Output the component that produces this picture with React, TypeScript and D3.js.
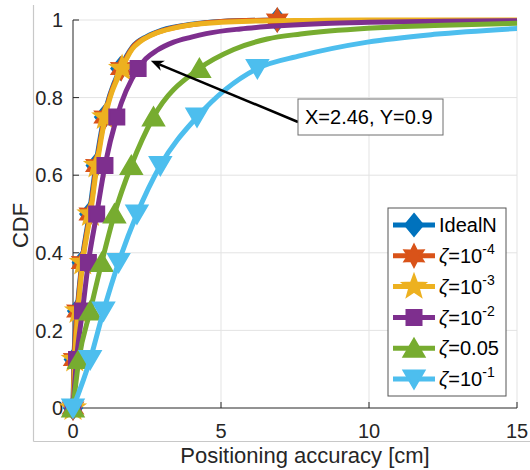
import React from "react";
import * as d3 from "d3";

// ---- data ----
const levels = [0, 0.125, 0.25, 0.375, 0.5, 0.625, 0.75, 0.875];

const idealMarkX = [0, 0.03, 0.14, 0.3, 0.55, 0.77, 1.05, 1.6];
const idealTailX = [2.0, 2.5, 3.0, 4.0, 5.0, 6.9];
const idealTailY = [0.93, 0.958, 0.974, 0.989, 0.996, 1.0];

const z4MarkX = [0, 0.04, 0.15, 0.31, 0.57, 0.79, 1.07, 1.63];
const z4TailX = [2.0, 2.5, 3.0, 4.0, 5.0, 6.9];
const z4TailY = [0.928, 0.956, 0.972, 0.988, 0.996, 1.0];

const z3MarkX = [0, 0.06, 0.17, 0.33, 0.59, 0.81, 1.09, 1.66];
const z3TailX = [2.0, 2.3, 2.8, 3.4, 4.0, 5.0, 6.0, 8.0, 10.0, 15.2];
const z3TailY = [0.925, 0.946, 0.966, 0.979, 0.988, 0.994, 0.997, 0.999, 1.0, 1.0];

const z2MarkX = [0, 0.12, 0.32, 0.52, 0.8, 1.08, 1.48, 2.2];
const z2TailX = [2.46, 2.84, 3.4, 4.0, 4.5, 5.66, 6.56, 8.5, 10.0, 12.5, 15.2];
const z2TailY = [0.9, 0.922, 0.943, 0.956, 0.965, 0.977, 0.983, 0.991, 0.994, 0.997, 0.998];

const z05MarkX = [0, 0.2, 0.58, 0.97, 1.4, 1.97, 2.72, 4.27];
const z05TailX = [5.43, 6.56, 7.69, 9.95, 12.2, 15.2];
const z05TailY = [0.924, 0.951, 0.964, 0.979, 0.986, 0.992];

const z1MarkX = [0, 0.58, 1.03, 1.54, 2.16, 2.95, 4.19, 6.23];
const z1TailX = [7.69, 9.95, 12.2, 15.2];
const z1TailY = [0.908, 0.943, 0.963, 0.979];

const seriesSymbol = ["", "ζ", "ζ", "ζ", "ζ", "ζ"];
const seriesNames = ["IdealN", "=10", "=10", "=10", "=0.05", "=10"];
const seriesSup = ["", "-4", "-3", "-2", "", "-1"];
const seriesColors = ["#0072BD", "#D95319", "#EDB120", "#7E2F8E", "#77AC30", "#4DBEEE"];
const seriesMarkers = ["diamond", "hexagram", "pentagram", "square", "triangleUp", "triangleDown"];
// whether the last tail point carries a marker (max sample at CDF = 1)
const seriesEndMarker = [true, true, false, false, false, false];

const xTicks = [0, 5, 10, 15];
const yTicks = [0, 0.2, 0.4, 0.6, 0.8, 1];
const yTickLabels = ["0", "0.2", "0.4", "0.6", "0.8", "1"];

const annotX = 2.46;
const annotY = 0.9;
const annotText = "X=2.46, Y=0.9";

// ---- build series ----
const markXs = [idealMarkX, z4MarkX, z3MarkX, z2MarkX, z05MarkX, z1MarkX];
const tailXs = [idealTailX, z4TailX, z3TailX, z2TailX, z05TailX, z1TailX];
const tailYs = [idealTailY, z4TailY, z3TailY, z2TailY, z05TailY, z1TailY];

const series = seriesNames.map((name, i) => {
  const marks = markXs[i].map((x, k) => [x, levels[k]] as [number, number]);
  const tail = tailXs[i].map((x, k) => [x, tailYs[i][k]] as [number, number]);
  const markerPts = seriesEndMarker[i] ? [...marks, tail[tail.length - 1]] : marks;
  return {
    symbol: seriesSymbol[i],
    name,
    sup: seriesSup[i],
    color: seriesColors[i],
    marker: seriesMarkers[i],
    pts: [...marks, ...tail],
    markerPts,
  };
});

function starPath(n: number, ro: number, ri: number) {
  const p: string[] = [];
  for (let k = 0; k < 2 * n; k++) {
    const r = k % 2 === 0 ? ro : ri;
    const a = -Math.PI / 2 + (k * Math.PI) / n;
    p.push(`${(r * Math.cos(a)).toFixed(2)},${(r * Math.sin(a)).toFixed(2)}`);
  }
  return "M" + p.join("L") + "Z";
}

function markerPath(type: string) {
  switch (type) {
    case "diamond":
      return "M0,-11L9,0L0,11L-9,0Z";
    case "hexagram":
      return starPath(6, 11, 6);
    case "pentagram":
      return starPath(5, 12, 5);
    case "square":
      return "M-7.5,-7.5L7.5,-7.5L7.5,7.5L-7.5,7.5Z";
    case "triangleUp":
      return "M0,-9.5L10.5,8.5L-10.5,8.5Z";
    case "triangleDown":
      return "M0,9.5L10.5,-8.5L-10.5,-8.5Z";
  }
  return "";
}

const FONT = "'Liberation Sans', Arial, Helvetica, sans-serif";

export default function App() {
  const W = 530;
  const H = 470;
  const left = 73;
  const right = 517;
  const top = 20;
  const bottom = 408;

  const x = d3.scaleLinear().domain([0, 15]).range([left, right]);
  const y = d3.scaleLinear().domain([0, 1]).range([bottom, top]);
  const line = d3
    .line<[number, number]>()
    .x((d) => x(d[0]))
    .y((d) => y(d[1]))
    .curve(d3.curveMonotoneX);

  const axisColor = "#262626";
  const gridColor = "#e3e3e3";

  // legend
  const lgX = 388;
  const lgY = 208;
  const lgW = 118;
  const lgH = 188;
  const rowY0 = 225;
  const rowDy = 30.8;

  // annotation
  const tipX = x(annotX) + 5;
  const tipY = y(annotY) + 2;
  const boxX = 298;
  const boxY = 99;
  const boxW = 145;
  const boxH = 36;
  const startX = boxX;
  const startY = 122;
  const ang = Math.atan2(startY - tipY, startX - tipX);
  const ah = 13;
  const aw = 5.5;
  const ux = Math.cos(ang);
  const uy = Math.sin(ang);
  const baseX = tipX + ux * ah;
  const baseY = tipY + uy * ah;
  const notchX = tipX + ux * ah * 0.7;
  const notchY = tipY + uy * ah * 0.7;
  const arrowHead = `M${tipX},${tipY}L${baseX - uy * aw},${baseY + ux * aw}L${notchX},${notchY}L${baseX + uy * aw},${baseY - ux * aw}Z`;

  return (
    <svg
      width={W}
      height={H}
      style={{ position: "absolute", left: 0, top: 0, background: "#fff" }}
      fontFamily={FONT}
    >
      <defs>
        <clipPath id="plotClip">
          <rect x={0} y={0} width={right} height={H} />
        </clipPath>
      </defs>
      <rect x={0} y={0} width={W} height={H} fill="#fff" />

      {/* outer gray frame */}
      <line x1={33.5} y1={5} x2={33.5} y2={441.5} stroke="#c8c8c8" strokeWidth={1.2} />
      <line x1={33.5} y1={441.5} x2={W} y2={441.5} stroke="#c8c8c8" strokeWidth={1.2} />

      {/* grid */}
      {yTicks.filter((t) => t > 0).map((t) => (
        <line key={"gy" + t} x1={left} x2={right} y1={y(t)} y2={y(t)} stroke={gridColor} strokeWidth={1} />
      ))}
      {xTicks.filter((t) => t > 0).map((t) => (
        <line key={"gx" + t} x1={x(t)} x2={x(t)} y1={top} y2={bottom} stroke={gridColor} strokeWidth={1} />
      ))}

      {/* axes */}
      <line x1={left} x2={left} y1={top} y2={bottom} stroke={axisColor} strokeWidth={1} />
      <line x1={left} x2={right} y1={bottom} y2={bottom} stroke={axisColor} strokeWidth={1} />
      {yTicks.map((t) => (
        <line key={"ty" + t} x1={left} x2={left + 6} y1={y(t)} y2={y(t)} stroke={axisColor} />
      ))}
      {xTicks.map((t) => (
        <line key={"tx" + t} x1={x(t)} x2={x(t)} y1={bottom} y2={bottom - 6} stroke={axisColor} />
      ))}

      {/* tick labels */}
      {yTicks.map((t, i) => (
        <text key={"ly" + t} x={63} y={y(t)} dy="0.36em" textAnchor="end" fontSize={20} fill={axisColor}>
          {yTickLabels[i]}
        </text>
      ))}
      {xTicks.map((t) => (
        <text key={"lx" + t} x={x(t)} y={438} textAnchor="middle" fontSize={20} fill={axisColor}>
          {t}
        </text>
      ))}

      {/* series */}
      {series.map((s, i) => (
        <g key={"s" + i}>
          <path
            d={line(s.pts) || ""}
            fill="none"
            stroke={s.color}
            strokeWidth={5}
            strokeLinejoin="round"
            clipPath="url(#plotClip)"
          />
          {s.markerPts.map((p, k) => (
            <path
              key={k}
              d={markerPath(s.marker)}
              transform={`translate(${x(p[0])},${y(p[1])})`}
              fill={s.color}
              stroke={s.color}
              strokeWidth={2}
              strokeLinejoin="miter"
            />
          ))}
        </g>
      ))}

      {/* axis labels */}
      <text x={305} y={463} textAnchor="middle" fontSize={22} fill={axisColor}>
        Positioning accuracy [cm]
      </text>
      <text
        transform="translate(27.5,225.5) rotate(-90)"
        textAnchor="middle"
        fontSize={22}
        fill={axisColor}
      >
        CDF
      </text>

      {/* annotation */}
      <line x1={startX} y1={startY} x2={notchX} y2={notchY} stroke="#000" strokeWidth={2.5} />
      <path d={arrowHead} fill="#000" />
      <rect x={boxX} y={boxY} width={boxW} height={boxH} fill="#fff" stroke="#6e6e6e" strokeWidth={1} />
      <text x={305} y={124} fontSize={20} fill="#000">
        {annotText}
      </text>

      {/* legend */}
      <rect x={lgX} y={lgY} width={lgW} height={lgH} fill="#fff" stroke="#555" strokeWidth={1} />
      {series.map((s, i) => {
        const cy = rowY0 + i * rowDy;
        return (
          <g key={"lg" + i}>
            <line x1={393} x2={435} y1={cy} y2={cy} stroke={s.color} strokeWidth={5} />
            <path
              d={markerPath(s.marker)}
              transform={`translate(414,${cy})`}
              fill={s.color}
              stroke={s.color}
              strokeWidth={2}
            />
            <text x={439} y={cy} dy="0.36em" fontSize={20} fill="#000">
              {s.symbol ? <tspan fontStyle="italic">{s.symbol}</tspan> : null}
              <tspan>{s.name}</tspan>
              {s.sup ? (
                <tspan dy={-9} fontSize={14}>
                  {s.sup}
                </tspan>
              ) : null}
            </text>
          </g>
        );
      })}
    </svg>
  );
}
